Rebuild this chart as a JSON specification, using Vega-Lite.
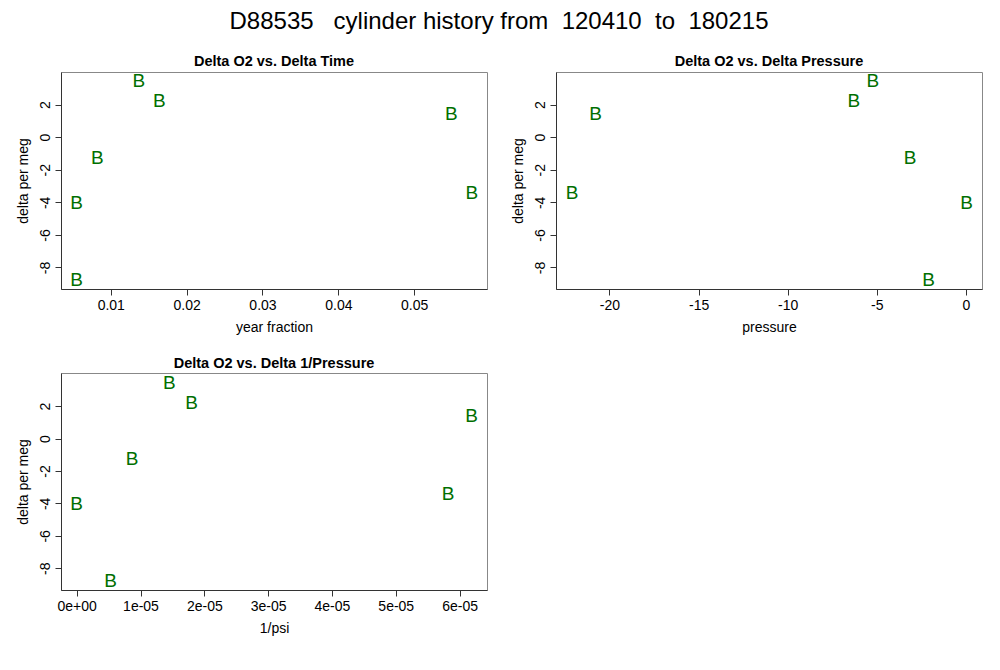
{
  "$schema": "https://vega.github.io/schema/vega-lite/v6.json",
  "padding": {"left": 15, "top": 9, "right": 5, "bottom": 5},
  "background": "white",
  "title": {
    "text": "D88535\u00a0\u00a0\u00a0cylinder history from\u00a0\u00a0120410\u00a0\u00a0to\u00a0\u00a0180215",
    "fontSize": 24,
    "fontWeight": "normal",
    "font": "Liberation Sans",
    "color": "black",
    "anchor": "middle",
    "offset": 20
  },
  "data": {
    "values": [
      {"yearfrac": 0.0137, "pressure": -5.22, "invpsi": 0.0000145, "delta": 3.45},
      {"yearfrac": 0.0164, "pressure": -6.29, "invpsi": 0.0000180, "delta": 2.22},
      {"yearfrac": 0.0549, "pressure": -20.78, "invpsi": 0.0000619, "delta": 1.41},
      {"yearfrac": 0.00823, "pressure": -3.14, "invpsi": 0.0000087, "delta": -1.26},
      {"yearfrac": 0.00551, "pressure": 0.03, "invpsi": 0.0, "delta": -4.03},
      {"yearfrac": 0.0576, "pressure": -22.1, "invpsi": 0.0000582, "delta": -3.41},
      {"yearfrac": 0.0055, "pressure": -2.10, "invpsi": 0.0000053, "delta": -8.78}
    ]
  },
  "columns": 2,
  "spacing": {"row": 20, "column": 22},
  "concat": [
    {
      "width": 426,
      "height": 217,
      "title": {"text": "Delta O2 vs. Delta Time"},
      "mark": {"type": "text", "text": "B"},
      "encoding": {
        "x": {
          "field": "yearfrac",
          "type": "quantitative",
          "scale": {"domain": [0.00344, 0.0596], "nice": false, "zero": false},
          "axis": {"title": "year fraction", "values": [0.01, 0.02, 0.03, 0.04, 0.05], "labelExpr": "'' + datum.value"}
        },
        "y": {
          "field": "delta",
          "type": "quantitative",
          "scale": {"domain": [-9.32, 4.0], "nice": false, "zero": false},
          "axis": {"title": "delta per meg", "values": [-8, -6, -4, -2, 0, 2], "labelAngle": -90, "labelExpr": "'' + datum.value"}
        }
      }
    },
    {
      "width": 426,
      "height": 217,
      "title": {"text": "Delta O2 vs. Delta Pressure"},
      "mark": {"type": "text", "text": "B"},
      "encoding": {
        "x": {
          "field": "pressure",
          "type": "quantitative",
          "scale": {"domain": [-23.0, 0.9], "nice": false, "zero": false},
          "axis": {"title": "pressure", "values": [-20, -15, -10, -5, 0], "labelExpr": "'' + datum.value"}
        },
        "y": {
          "field": "delta",
          "type": "quantitative",
          "scale": {"domain": [-9.32, 4.0], "nice": false, "zero": false},
          "axis": {"title": "delta per meg", "values": [-8, -6, -4, -2, 0, 2], "labelAngle": -90, "labelExpr": "'' + datum.value"}
        }
      }
    },
    {
      "width": 426,
      "height": 217,
      "title": {"text": "Delta O2 vs. Delta 1/Pressure"},
      "mark": {"type": "text", "text": "B"},
      "encoding": {
        "x": {
          "field": "invpsi",
          "type": "quantitative",
          "scale": {"domain": [-0.00000246, 0.0000643], "nice": false, "zero": false},
          "axis": {
            "title": "1/psi",
            "values": [0, 0.00001, 0.00002, 0.00003, 0.00004, 0.00005, 0.00006],
            "labelExpr": "datum.value == 0 ? '0e+00' : round(datum.value * 100000) + 'e-05'"
          }
        },
        "y": {
          "field": "delta",
          "type": "quantitative",
          "scale": {"domain": [-9.34, 4.04], "nice": false, "zero": false},
          "axis": {"title": "delta per meg", "values": [-8, -6, -4, -2, 0, 2], "labelAngle": -90, "labelExpr": "'' + datum.value"}
        }
      }
    }
  ],
  "config": {
    "font": "Liberation Sans",
    "view": {"stroke": "#888888", "strokeWidth": 1},
    "text": {"fontSize": 19, "color": "#006f00", "align": "center", "baseline": "middle", "font": "Liberation Sans"},
    "title": {"fontSize": 14.5, "fontWeight": "bold", "color": "black", "anchor": "middle", "offset": 2, "font": "Liberation Sans"},
    "axis": {
      "domain": true,
      "domainColor": "#333333",
      "grid": false,
      "ticks": true,
      "tickSize": 6,
      "tickColor": "#333333",
      "labelFont": "Liberation Sans",
      "labelFontSize": 14,
      "labelColor": "black",
      "labelPadding": 3,
      "titleFont": "Liberation Sans",
      "titleFontSize": 14,
      "titleFontWeight": "normal",
      "titleColor": "black",
      "titlePadding": 8
    }
  }
}
